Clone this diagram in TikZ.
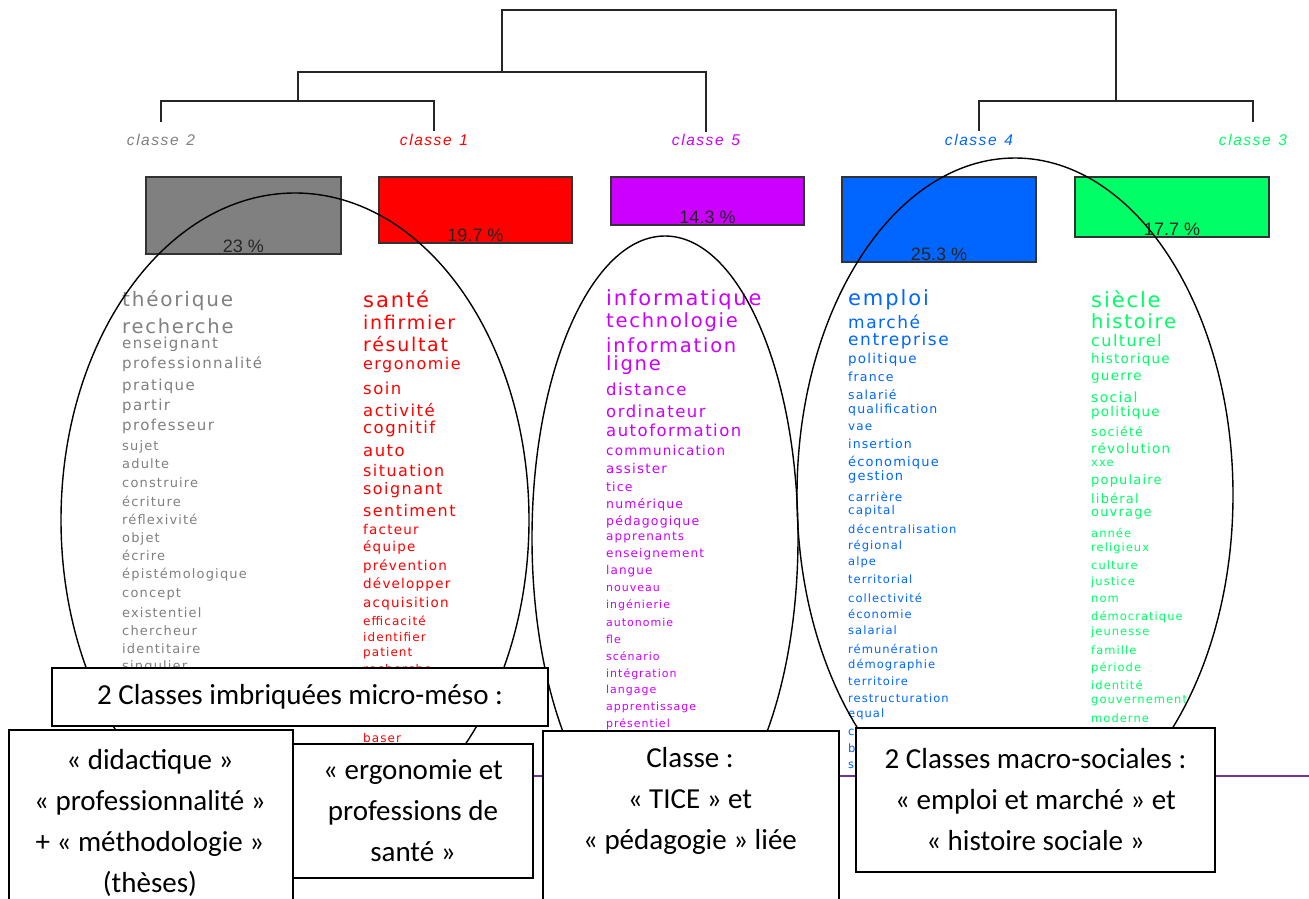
\documentclass[tikz,border=0pt]{standalone}
\usepackage{fontspec}
\setmainfont{Carlito}
\newfontfamily\wf[LetterSpace=9]{DejaVu Sans}
\newfontfamily\cf[LetterSpace=10]{Liberation Sans}
\newfontfamily\pf{Liberation Sans}
\definecolor{cgrey}{HTML}{808080}
\definecolor{cred}{HTML}{FF0000}
\definecolor{cpurp}{HTML}{CC00FF}
\definecolor{cblue}{HTML}{0066FF}
\definecolor{cgreen}{HTML}{00FF66}
\definecolor{cline}{HTML}{7030A0}
\tikzset{
  dendro/.style={draw=black!85, line width=1.4pt},
  cls/.style={font=\cf\itshape\fontsize{15.5}{15.5}\selectfont, inner sep=0pt},
  bar/.style={draw=black!80, line width=1.2pt, inner sep=0pt},
  pct/.style={font=\pf\fontsize{18}{18}\selectfont, text=black!85, inner sep=0pt},
  ell/.style={draw=black, line width=1.4pt},
  wrd/.style={anchor=base west, inner sep=0pt},
  bx/.style={draw=black, line width=1.5pt, fill=white, inner sep=0pt, align=center,
             font=\fontsize{29}{41}\selectfont},
  bxt/.style={inner sep=0pt, align=center, font=\fontsize{29}{41}\selectfont}
}
\begin{document}
\begin{tikzpicture}[x=1pt,y=-1pt]
\useasboundingbox (0,0) rectangle (1309,899);
\clip (0,0) rectangle (1309,899);
\fill[white] (0,0) rectangle (1309,899);

% class labels
\node[cls, text=cgrey]  (c2) at (161,140) {classe\enspace 2};
\node[cls, text=cred]   (c1) at (434,140) {classe\enspace 1};
\node[cls, text=cpurp]  (c5) at (706,140) {classe\enspace 5};
\node[cls, text=cblue]  (c4) at (979,140) {classe\enspace 4};
\node[cls, text=cgreen] (c3) at (1253,140) {classe\enspace 3};

% dendrogram
\coordinate (j21) at (298,101);
\coordinate (j215) at (502,72);
\coordinate (j43) at (1116,101);
\coordinate (jtop) at (809,10);
\draw[dendro] ([yshift=12pt]c2.north) |- (j21) -| ([yshift=3pt]c1.north);
\draw[dendro] (j21) |- (j215) -| ([yshift=2pt]c5.north);
\draw[dendro] ([yshift=3pt]c4.north) |- (j43) -| ([yshift=12pt]c3.north);
\draw[dendro] (j215) |- (jtop) -| (j43);

% bars
\node[bar, fill=cgrey,  minimum width=195pt, minimum height=77pt] (r2) at (243.5,215.5) {};
\node[bar, fill=cred,   minimum width=193pt, minimum height=66pt] (r1) at (475.5,210) {};
\node[bar, fill=cpurp,  minimum width=193pt, minimum height=48pt] (r5) at (707.5,201) {};
\node[bar, fill=cblue,  minimum width=194pt, minimum height=85pt] (r4) at (939,219.5) {};
\node[bar, fill=cgreen, minimum width=194pt, minimum height=60pt] (r3) at (1172,207) {};
\node[pct] (p2) at ([yshift=8.5pt]r2.south) {23 \%};
\node[pct] (p1) at ([yshift=8.5pt]r1.south) {19.7 \%};
\node[pct] (p5) at ([yshift=8.5pt]r5.south) {14.3 \%};
\node[pct] (p4) at ([yshift=8.5pt]r4.south) {25.3 \%};
\node[pct] (p3) at ([yshift=8.5pt]r3.south) {17.7 \%};

% word columns
\foreach \t/\y/\s [count=\i] in {théorique/306/20, recherche/333/19.5, enseignant/348/15,
  professionnalité/368/15, pratique/390/15, partir/410/15, professeur/430/15,
  sujet/450/13, adulte/468/13, construire/487/13, écriture/506/13, réflexivité/524/13,
  objet/542/13, écrire/560/13, épistémologique/578/13, concept/597/13, existentiel/617/13,
  chercheur/635/13, identitaire/653/13, singulier/670/13}
  \node[wrd, text=cgrey, font=\wf\fontsize{\s}{\s}\selectfont] (g\i) at (122,\y) {\t};

\foreach \t/\y/\s [count=\i] in {santé/307/21, infirmier/329/19, résultat/351/19,
  ergonomie/369/16, soin/394/16.5, activité/416/16.5, cognitif/433/16.5, auto/456/16.5,
  situation/476/16, soignant/494/16, sentiment/516/16, facteur/534/13.5, équipe/551/13.5,
  prévention/570/13.5, développer/588/13.5, acquisition/607/13.5, efficacité/625/12,
  identifier/641/12, patient/656/12, recherche/673/12, baser/742/12}
  \node[wrd, text=cred, font=\wf\fontsize{\s}{\s}\selectfont] (r\i) at (363,\y) {\t};

\foreach \t/\y/\s [count=\i] in {informatique/305/21, technologie/327/19.5, information/352/19.5,
  ligne/370/19.5, distance/395/16.5, ordinateur/417/16.5, autoformation/436/16.5,
  communication/455/13.5, assister/473/13.5, tice/491/12.5, numérique/508/12.5, pédagogique/525/12.5,
  apprenants/540/12, enseignement/557/12, langue/574/12, nouveau/591/11,
  ingénierie/608/11, autonomie/626/11, fle/643/11, scénario/660/11,
  intégration/677/11, langage/693/11, apprentissage/710/11, présentiel/727/11}
  \node[wrd, text=cpurp, font=\wf\fontsize{\s}{\s}\selectfont] (p\i) at (606,\y) {\t};

\foreach \t/\y/\s [count=\i] in {emploi/305/21, marché/328/17, entreprise/345/17,
  politique/363/13.5, france/381/12.5, salarié/399/12.5, qualification/413/12.5, vae/430/12,
  insertion/448/12.5, économique/466/13, gestion/480/13, carrière/501/12,
  capital/514/12, décentralisation/533/11.5, régional/549/11.5, alpe/565/11.5,
  territorial/583/11.5, collectivité/602/11.5, économie/618/11.5, salarial/634/11.5,
  rémunération/653/11.5, démographie/668/11.5, territoire/685/11.5, restructuration/702/11.5,
  equal/717/11.5, c/735/11.5, b/752/11.5, s/768/11.5}
  \node[wrd, text=cblue, font=\wf\fontsize{\s}{\s}\selectfont] (b\i) at (848,\y) {\t};

\foreach \t/\y/\s [count=\i] in {siècle/307/21, histoire/328/19.5, culturel/346/16,
  historique/363/13.5, guerre/380/13.5, social/402/14, politique/416/13.5, société/436/12.5,
  révolution/453/13.5, xxe/466/11.5, populaire/484/13, libéral/503/13, ouvrage/516/13,
  année/537/11.5, religieux/551/11.5, culture/569/11.5, justice/585/11.5, nom/602/11.5,
  démocratique/620/11.5, jeunesse/635/11.5, famille/654/11.5, période/671/11.5, identité/689/11.5,
  gouvernement/703/11.5, moderne/722/11.5}
  \node[wrd, text=cgreen, font=\wf\fontsize{\s}{\s}\selectfont] (v\i) at (1091,\y) {\t};

% ellipses
\draw[ell] (295,520) ellipse [x radius=234pt, y radius=327pt];
\draw[ell] (665,538) ellipse [x radius=133pt, y radius=302pt];
\draw[ell] (1015,495) ellipse [x radius=218pt, y radius=337pt];

% purple line
\coordinate (lineA) at (420,776);
\coordinate (lineB) at (1309,776);
\draw[draw=cline, line width=2pt] (lineA) -- (lineB);

% boxes
\node[bx, minimum width=496pt, minimum height=58pt] (bT) at (300,697) {2 Classes imbriquées micro-méso :};
\node[bx, anchor=north west, minimum width=284pt, minimum height=190pt] (bA) at (8,729) {};
\node[bxt] (tA) at (150,823) {« didactique »\\« professionnalité »\\+ « méthodologie »\\(thèses)};
\node[bx, minimum width=240pt, minimum height=134pt] (bB) at (413,811) {« ergonomie et\\professions de\\santé »};
\node[bx, anchor=north west, minimum width=296pt, minimum height=190pt] (bC) at (542,730) {};
\node[bxt] (tC) at (690,801) {Classe :\\« TICE » et\\« pédagogie » liée};
\node[bx, minimum width=359pt, minimum height=144pt] (bD) at (1035.5,800) {2 Classes macro-sociales :\\« emploi et marché » et\\« histoire sociale »};
\end{tikzpicture}
\end{document}
